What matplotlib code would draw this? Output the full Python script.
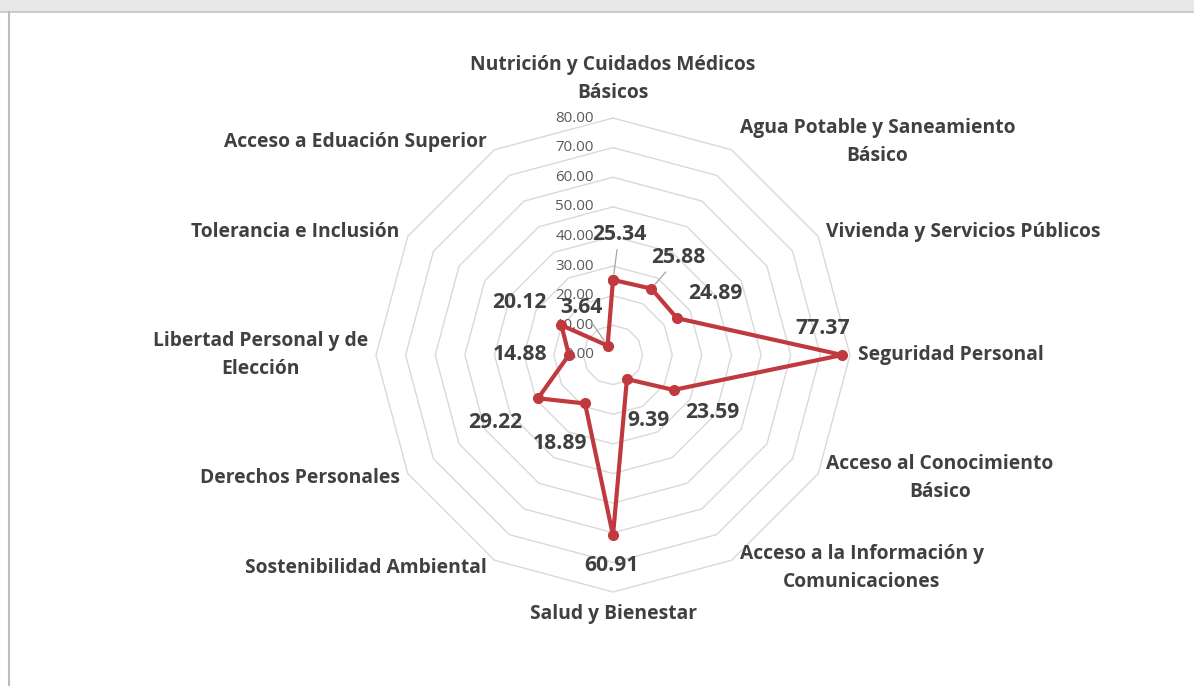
import matplotlib
matplotlib.use("Agg")
import matplotlib.pyplot as plt
import numpy as np
from matplotlib.lines import Line2D
from matplotlib.patches import Rectangle

# Category names, clockwise from the top
categories = [
    "Nutrición y Cuidados Médicos\nBásicos",
    "Agua Potable y Saneamiento\nBásico",
    "Vivienda y Servicios Públicos",
    "Seguridad Personal",
    "Acceso al Conocimiento\nBásico",
    "Acceso a la Información y\nComunicaciones",
    "Salud y Bienestar",
    "Sostenibilidad Ambiental",
    "Derechos Personales",
    "Libertad Personal y de\nElección",
    "Tolerancia e Inclusión",
    "Acceso a Eduación Superior",
]
values = [25.34, 25.88, 24.89, 77.37, 23.59, 9.39, 60.91, 18.89, 29.22, 14.88, 20.12, 3.64]
rings = [0, 10, 20, 30, 40, 50, 60, 70, 80]

# data label offsets in pixels (right / up), placed by hand like the original
label_dx = [6, 27, 39, -20, 39, 22, -2, -25, -43, -49, -42, -26]
label_dy = [45, 31, 25, 27, -23, -41, -30, -40, -24, 0, 23, 38]
leader = [True, True, False, False, False, False, False, False, False, False, False, True]

RED = "#c0393e"
GRID = "#d9d9d9"
TXT = "#404040"
FONT = "Open Sans"

fig = plt.figure(figsize=(11.94, 6.86), dpi=100)
fig.patch.set_facecolor("white")

# frame of the screenshot: grey strip on top, thin border lines
fig.patches.append(Rectangle((0, 1 - 11 / 686), 1, 11 / 686, transform=fig.transFigure,
                             color="#e8e8e8", zorder=0))
fig.lines.append(Line2D([0, 1], [1 - 12 / 686] * 2, transform=fig.transFigure,
                        color="#c4c4c4", lw=1.2))
fig.lines.append(Line2D([9 / 1194] * 2, [0, 1 - 12 / 686], transform=fig.transFigure,
                        color="#bcbcbc", lw=1.5))

ax = fig.add_axes([376 / 1194, 94 / 686, 474 / 1194, 474 / 686], projection="polar")
ax.set_theta_zero_location("N")
ax.set_theta_direction(-1)
ax.set_ylim(0, 80)
ax.set_xticks([])
ax.set_yticks([])
ax.grid(False)
ax.spines["polar"].set_visible(False)
ax.patch.set_alpha(0)

n = len(categories)
theta = np.arange(n) * 2 * np.pi / n
closed = np.append(theta, theta[0])

# polygon gridlines
for r in rings[1:]:
    ax.plot(closed, [r] * (n + 1), color=GRID, lw=1, zorder=1, clip_on=False)

# ring value labels along the top spoke
for r in rings:
    ax.annotate(f"{r:.2f}", xy=(0, r), xytext=(-19, 0), textcoords="offset pixels",
                ha="right", va="center", fontsize=10.8, color="#595959",
                family=FONT, annotation_clip=False, zorder=2)

# data series
ax.plot(closed, np.append(values, values[0]), color=RED, lw=3, marker="o",
        markersize=7, zorder=4, clip_on=False)

# data labels
for t, v, dx, dy, ld in zip(theta, values, label_dx, label_dy, leader):
    arrow = dict(arrowstyle="-", color="#a0a8a0", lw=0.9, shrinkA=1, shrinkB=4) if ld else None
    ax.annotate(f"{v:.2f}", xy=(t, v), xytext=(dx, dy), textcoords="offset pixels",
                ha="center", va="center", fontsize=15.2, fontweight="bold", color=TXT,
                family=FONT, annotation_clip=False, arrowprops=arrow, zorder=5)

# category labels around the outer ring
for t, name in zip(theta, categories):
    s, c = np.sin(t), np.cos(t)
    if abs(s) < 0.1:
        ha = "center"
        va = "bottom" if c > 0 else "top"
        off = (0, 15) if c > 0 else (0, -12)
    else:
        ha = "left" if s > 0 else "right"
        va = "center"
        off = (8 * np.sign(s), 9 * c)
    ax.annotate(name, xy=(t, 80), xytext=off, textcoords="offset pixels",
                ha=ha, va=va, multialignment="center", fontsize=13.9,
                fontweight="bold", color=TXT, family=FONT,
                annotation_clip=False, linespacing=1.55, zorder=3)

fig.savefig("out.png", dpi=100, facecolor="white")
